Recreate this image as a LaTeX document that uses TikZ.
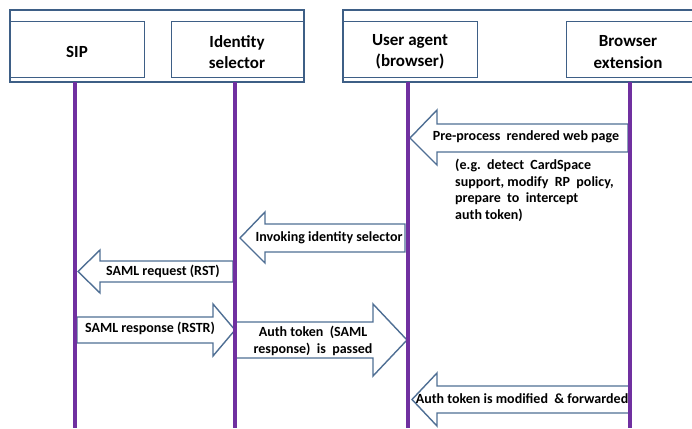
\documentclass[tikz,border=0pt]{standalone}
\usepackage{fontspec}
\setmainfont{Carlito}
\begin{document}
\begin{tikzpicture}[x=1pt,y=-1pt,
  frame/.style={draw=framecol,line width=1.3pt},
  hdr/.style={font=\bfseries\fontsize{17}{21.5}\selectfont,align=center,text=black},
  lbl/.style={font=\bfseries\fontsize{14}{16.5}\selectfont,text=black,inner sep=0pt},
  blockarrow/.style={draw=arrowcol,line width=1.4pt,fill=white,line join=miter},
  lifeline/.style={draw=lifecol,line width=4.6pt}]
\definecolor{framecol}{HTML}{3E5F86}
\definecolor{arrowcol}{HTML}{4F6F94}
\definecolor{lifecol}{HTML}{7030A0}
\useasboundingbox (0,0) rectangle (692,428);
\clip (0,0) rectangle (692,428);
\fill[white] (0,0) rectangle (692,428);
% left frame
\draw[frame] (10,10) rectangle (304,82);
\node[frame,minimum width=134pt,minimum height=56pt,anchor=north west] (sipbox) at (10,21) {};
\node[frame,minimum width=133pt,minimum height=56pt,anchor=north west] (isbox) at (171,21) {};
% right frame (runs past the right edge)
\draw[frame] (343,10) rectangle (705,82);
\node[frame,minimum width=134pt,minimum height=56pt,anchor=north west] (uabox) at (343,21) {};
\node[frame,minimum width=135pt,minimum height=56pt,anchor=north west] (bebox) at (566,21) {};
\node[hdr] (sip) at (77,52) {SIP};
\node[hdr] (is) at (237,52) {Identity\\selector};
\node[hdr] (ua) at (410,52) {User agent\\(browser)};
\node[hdr] (be) at (628,52) {Browser\\extension};
% lifeline ends
\coordinate (sipT) at (75,82);  \coordinate (sipB) at (75,428);
\coordinate (isT) at (235,82);  \coordinate (isB) at (235,428);
\coordinate (uaT) at (408,82);  \coordinate (uaB) at (408,428);
\coordinate (beT) at (630,82);  \coordinate (beB) at (630,428);
% block arrows
\draw[blockarrow] (410,138) -- (437,110) -- (437,124) -- (628,124) -- (628,152) -- (437,152) -- (437,165) -- cycle;
\draw[blockarrow] (240,238) -- (265,212) -- (265,224) -- (405,224) -- (405,252) -- (265,252) -- (265,263) -- cycle;
\draw[blockarrow] (78,271.5) -- (100,250) -- (100,261) -- (233,261) -- (233,282) -- (100,282) -- (100,293) -- cycle;
\draw[blockarrow] (235,330) -- (213,304) -- (213,317) -- (77,317) -- (77,343) -- (213,343) -- (213,356) -- cycle;
\draw[blockarrow] (407,340) -- (373,304) -- (373,322) -- (235,322) -- (235,358) -- (373,358) -- (373,376) -- cycle;
\draw[blockarrow] (412,399.5) -- (437,373) -- (437,386) -- (630,386) -- (630,413) -- (437,413) -- (437,426) -- cycle;
% lifelines
\draw[lifeline] (sipT) -- (sipB);
\draw[lifeline] (isT) -- (isB);
\draw[lifeline] (uaT) -- (uaB);
\draw[lifeline] (beT) -- (beB);
% labels
\node[lbl] (m1) at (526,137) {Pre-process\ \ rendered web page};
\node[lbl,align=left,anchor=north west] (note) at (455,159) {(e.g.\ \ detect\ \ CardSpace\\support, modify\ \ RP\ \ policy,\\prepare\ \ to\ \ intercept\\auth token)};
\node[lbl] (m2) at (329,238) {Invoking identity selector};
\node[lbl] (m3) at (163,271) {SAML request (RST)};
\node[lbl] (m4) at (150,328) {SAML response (RSTR)};
\node[lbl,align=center] (m5) at (313,341) {Auth token\ \ (SAML\\response)\ \ is\ \ passed};
\node[lbl] (m6) at (522,399) {Auth token is modified\ \ \& forwarded};
\end{tikzpicture}
\end{document}
